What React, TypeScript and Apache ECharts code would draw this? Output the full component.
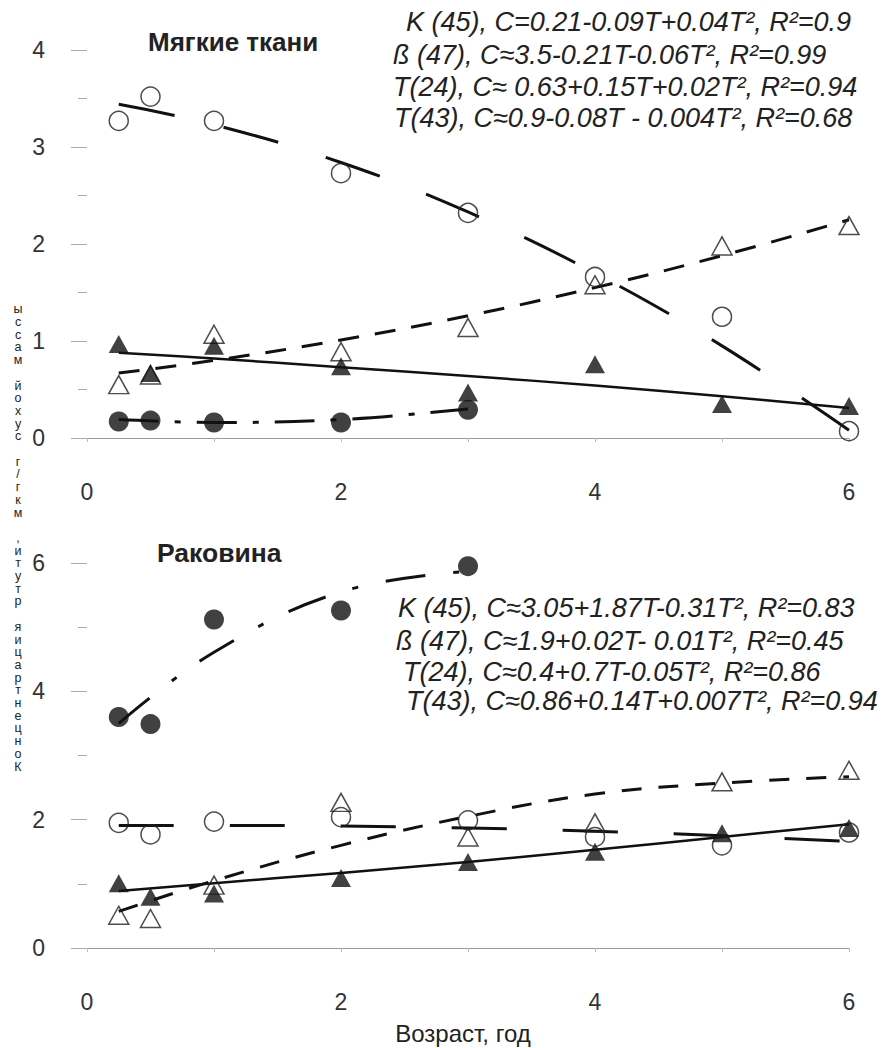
import React, { useEffect, useRef } from "react";
import * as echarts from "echarts";

const FONT = "'Liberation Sans', Arial, sans-serif";

// ages (years)
const agesAll = [0.25, 0.5, 1, 2, 3, 4, 5, 6];
const agesK = [0.25, 0.5, 1, 2, 3];
const fitAges = [0.25, 1, 2, 3, 4, 5, 6];
const fitAgesK = [0.25, 1, 2, 3];

// Мягкие ткани (soft tissue) – measured
const softK45 = [0.17, 0.18, 0.16, 0.16, 0.29];
const softB47 = [3.27, 3.52, 3.27, 2.73, 2.32, 1.66, 1.25, 0.07];
const softT24 = [0.55, 0.65, 1.07, 0.89, 1.14, 1.58, 1.98, 2.19];
const softT43 = [0.97, 0.67, 0.95, 0.74, 0.47, 0.76, 0.35, 0.33];
// Мягкие ткани – fitted curves
const softFitK45 = [0.19, 0.16, 0.19, 0.3];
const softFitB47 = [3.44, 3.23, 2.84, 2.33, 1.7, 0.95, 0.08];
const softFitT24 = [0.67, 0.8, 1.01, 1.26, 1.55, 1.88, 2.25];
const softFitT43 = [0.88, 0.82, 0.73, 0.64, 0.54, 0.43, 0.31];

// Раковина (shell) – measured
const shellK45 = [3.6, 3.49, 5.12, 5.26, 5.95];
const shellB47 = [1.95, 1.77, 1.97, 2.04, 1.99, 1.73, 1.6, 1.8];
const shellT24 = [0.51, 0.46, 0.98, 2.27, 1.73, 1.95, 2.59, 2.77];
const shellT43 = [1.01, 0.8, 0.85, 1.09, 1.34, 1.5, 1.79, 1.87];
// Раковина – fitted curves
const shellFitK45 = [3.5, 4.61, 5.55, 5.87];
const shellFitB47 = [1.91, 1.91, 1.9, 1.87, 1.82, 1.75, 1.66];
const shellFitT24 = [0.57, 1.05, 1.6, 2.05, 2.4, 2.57, 2.67];
const shellFitT43 = [0.89, 1.01, 1.17, 1.34, 1.53, 1.73, 1.93];

// texts
const softTitle = "Мягкие ткани";
const shellTitle = "Раковина";
const softEq = [
  "K (45), C=0.21-0.09T+0.04T², R²=0.9",
  "ß (47), C≈3.5-0.21T-0.06T², R²=0.99",
  "T(24), C≈ 0.63+0.15T+0.02T², R²=0.94",
  "T(43), C≈0.9-0.08T - 0.004T², R²=0.68",
];
const shellEq = [
  "K (45), C≈3.05+1.87T-0.31T², R²=0.83",
  "ß (47), C≈1.9+0.02T- 0.01T², R²=0.45",
  "T(24), C≈0.4+0.7T-0.05T², R²=0.86",
  "T(43), C≈0.86+0.14T+0.007T², R²=0.94",
];
const yLabel = "Концентрация ртути, мкг/г сухой массы";
const xLabel = "Возраст, год";

const pairs = (xs: number[], ys: number[]) => xs.map((x, i) => [x, ys[i]]);

const filledCircle = { symbol: "circle", symbolSize: 20, itemStyle: { color: "#111" } };
const openCircle = {
  symbol: "circle",
  symbolSize: 19,
  itemStyle: { color: "rgba(255,255,255,0)", borderColor: "#222", borderWidth: 1.5 },
};
const filledTri = { symbol: "triangle", symbolSize: [20, 18], itemStyle: { color: "#111" } };
const openTri = {
  symbol: "triangle",
  symbolSize: [20, 18],
  itemStyle: { color: "rgba(255,255,255,0)", borderColor: "#222", borderWidth: 1.5 },
};

function scatter(idx: number, xs: number[], ys: number[], style: any, name: string) {
  return {
    type: "scatter",
    name,
    xAxisIndex: idx,
    yAxisIndex: idx,
    data: pairs(xs, ys),
    z: 5,
    ...style,
  };
}

function fit(idx: number, xs: number[], ys: number[], dash: any, width: number, name: string) {
  return {
    type: "line",
    name,
    xAxisIndex: idx,
    yAxisIndex: idx,
    data: pairs(xs, ys),
    smooth: 0.4,
    showSymbol: false,
    symbol: "none",
    lineStyle: { color: "#111", width, type: dash, cap: "butt" },
    z: 3,
  };
}

function xAxis(idx: number) {
  return {
    gridIndex: idx,
    type: "value",
    min: 0,
    max: 6,
    interval: 2,
    axisLine: { show: true, onZero: false, lineStyle: { color: "#9a9a9a", width: 1 } },
    axisTick: { show: true, length: 4, lineStyle: { color: "#bbb" } },
    minorTick: { show: true, splitNumber: 2, length: 4, lineStyle: { color: "#bbb" } },
    splitLine: { show: false },
    axisLabel: { margin: 42, fontSize: 23, color: "#333", fontFamily: FONT },
  };
}

function yAxis(idx: number, max: number, interval: number) {
  return {
    gridIndex: idx,
    type: "value",
    min: 0,
    max,
    interval,
    offset: 5,
    axisLine: { show: false },
    axisTick: { show: true, length: 16, lineStyle: { color: "#aaa", width: 1 } },
    minorTick: { show: true, splitNumber: 2, length: 9, lineStyle: { color: "#aaa", width: 1 } },
    splitLine: { show: false },
    axisLabel: { margin: 37, fontSize: 23, color: "#333", fontFamily: FONT },
  };
}

const eqText = (text: string, x: number, y: number) => ({
  type: "text",
  x,
  y,
  style: {
    text,
    font: `italic 27px ${FONT}`,
    fill: "#222",
    verticalAlign: "middle",
  },
});

export default function App() {
  const ref = useRef<HTMLDivElement>(null);
  useEffect(() => {
    const chart = echarts.init(ref.current!, null, { renderer: "svg" });
    const softPos = [
      [406, 22],
      [393, 55],
      [393, 87],
      [394, 118],
    ];
    const shellPos = [
      [398, 608],
      [396, 641],
      [403, 672],
      [406, 701],
    ];
    const option: any = {
      animation: false,
      backgroundColor: "#fff",
      grid: [
        { left: 87, right: 41, top: 50, height: 388 },
        { left: 87, right: 41, top: 563, height: 385 },
      ],
      xAxis: [xAxis(0), xAxis(1)],
      yAxis: [yAxis(0, 4, 1), yAxis(1, 6, 2)],
      series: [
        fit(0, fitAgesK, softFitK45, [40, 16, 6, 16], 3, "K(45) fit"),
        fit(0, fitAges, softFitB47, [57, 50], 3, "ß(47) fit"),
        fit(0, fitAges, softFitT24, [21, 16], 3, "T(24) fit"),
        fit(0, fitAges, softFitT43, "solid", 2.5, "T(43) fit"),
        scatter(0, agesAll, softT24, openTri, "T(24)"),
        scatter(0, agesAll, softT43, filledTri, "T(43)"),
        scatter(0, agesAll, softB47, openCircle, "ß(47)"),
        scatter(0, agesK, softK45, filledCircle, "K(45)"),

        fit(1, fitAgesK, shellFitK45, [40, 28, 6, 28], 3, "K(45) fit"),
        fit(1, fitAges, shellFitB47, [55, 56], 3, "ß(47) fit"),
        fit(1, fitAges, shellFitT24, [20, 17], 3, "T(24) fit"),
        fit(1, fitAges, shellFitT43, "solid", 2.5, "T(43) fit"),
        scatter(1, agesAll, shellT24, openTri, "T(24)"),
        scatter(1, agesAll, shellT43, filledTri, "T(43)"),
        scatter(1, agesAll, shellB47, openCircle, "ß(47)"),
        scatter(1, agesK, shellK45, filledCircle, "K(45)"),
      ],
      graphic: [
        {
          type: "text",
          x: 148,
          y: 42,
          style: {
            text: softTitle,
            font: `bold 26px ${FONT}`,
            fill: "#222",
            verticalAlign: "middle",
          },
        },
        {
          type: "text",
          x: 157,
          y: 553,
          style: {
            text: shellTitle,
            font: `bold 26.5px ${FONT}`,
            fill: "#222",
            verticalAlign: "middle",
          },
        },
        ...softEq.map((t, i) => eqText(t, softPos[i][0], softPos[i][1])),
        ...shellEq.map((t, i) => eqText(t, shellPos[i][0], shellPos[i][1])),
        {
          type: "text",
          x: 463,
          y: 1033,
          style: {
            text: xLabel,
            font: `24px ${FONT}`,
            fill: "#222",
            align: "center",
            verticalAlign: "middle",
          },
        },
        {
          type: "text",
          x: 18,
          y: 303,
          style: {
            text: yLabel.split("").reverse().join("\n"),
            font: `12.5px ${FONT}`,
            lineHeight: 12.7,
            fill: "#222",
            align: "center",
            verticalAlign: "top",
          },
        },
      ],
    };
    chart.setOption(option);
    return () => chart.dispose();
  }, []);
  return (
    <div
      ref={ref}
      style={{ position: "absolute", left: 0, top: 0, width: 890, height: 1048 }}
    />
  );
}
